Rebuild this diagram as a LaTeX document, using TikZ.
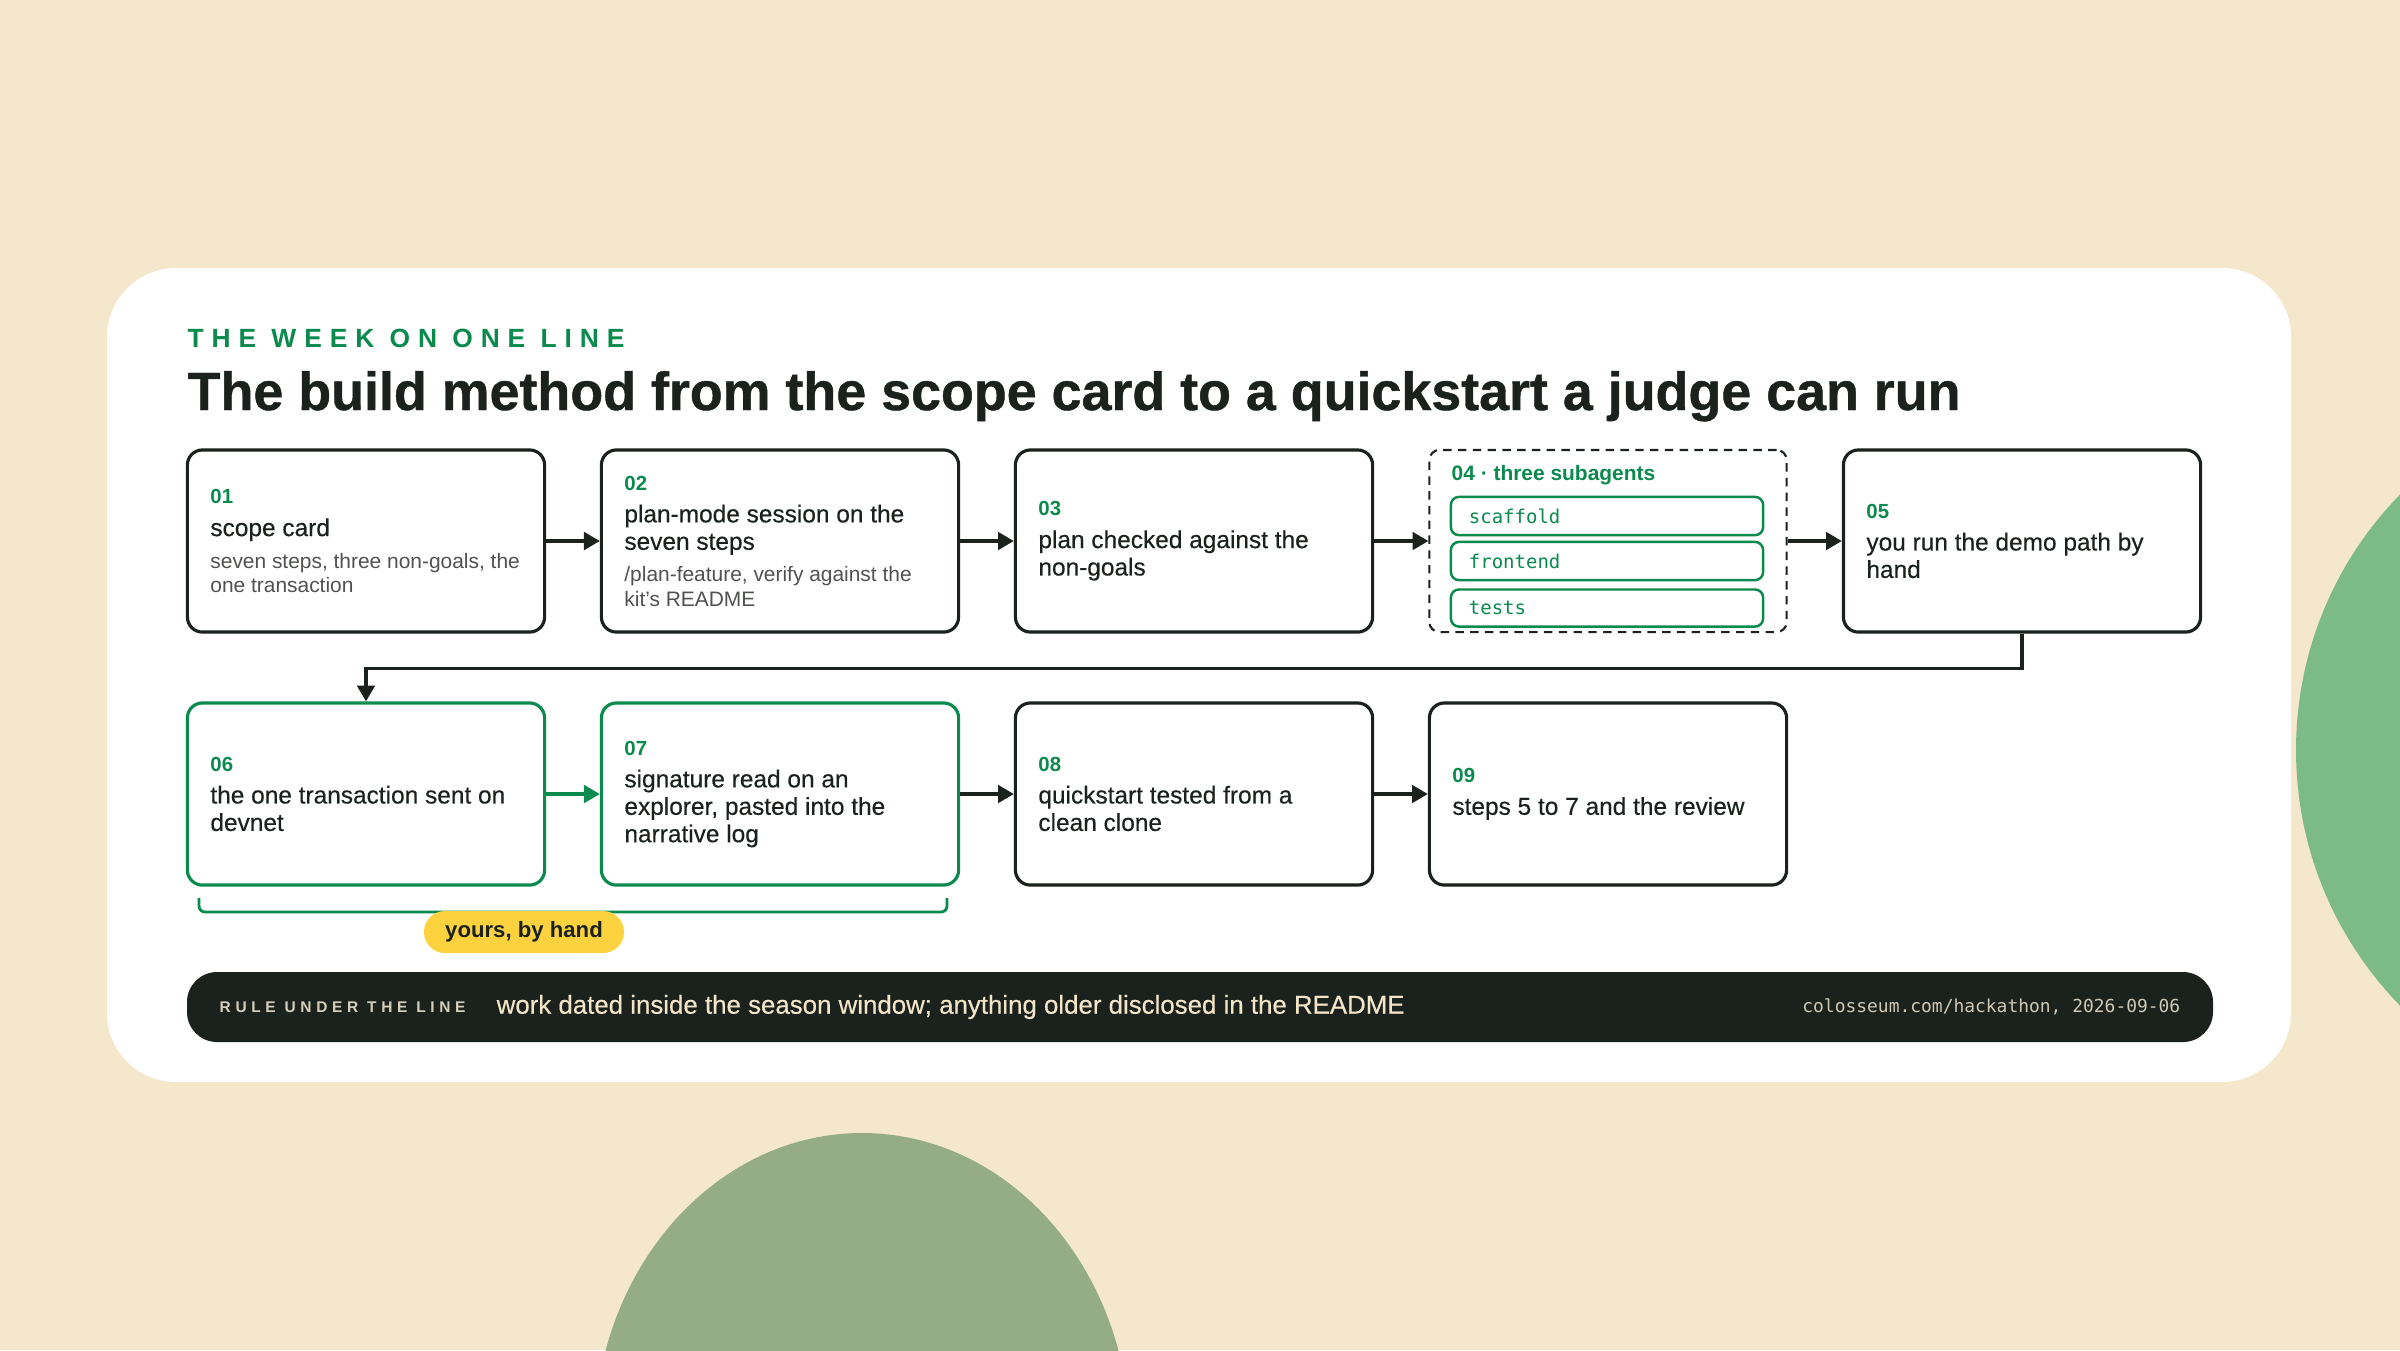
\documentclass[tikz,border=0pt]{standalone}
\usepackage{fontspec}
\setmainfont{Liberation Sans}
\newfontfamily\codefont{DejaVu Sans Mono}
\newfontfamily\trackfont{Liberation Sans}[LetterSpace=30]
\newfontfamily\mediumfont{Liberation Sans}[FakeBold=0.35]
\newfontfamily\heavyfont{Liberation Sans Bold}[FakeBold=0.8]
\usetikzlibrary{arrows.meta}
\usetikzlibrary{positioning}

\definecolor{cream}{HTML}{F5E7CB}
\definecolor{ink}{HTML}{1B211D}
\definecolor{brandgreen}{HTML}{0B8A4E}
\definecolor{notegray}{HTML}{4F524F}
\definecolor{leafgreen}{HTML}{7DBA8A}
\definecolor{sagegreen}{HTML}{95AD86}
\definecolor{pillyellow}{HTML}{FCD23F}
\definecolor{barlabel}{HTML}{D6CFBC}
\definecolor{barmono}{HTML}{CFC8B5}
\definecolor{bartext}{HTML}{F3E6C8}

% card lines: ragged, font's own spaces, allowed to run a little past the text width
\newcommand{\cardlines}{\raggedright\spaceskip=0pt\xspaceskip=0pt\rightskip=-0.4cm plus 1fil\relax}
\newcommand{\stepnum}[1]{{\cardlines\fontsize{5.8}{6.6}\selectfont\bfseries\color{brandgreen}#1\par}\vspace{1.4pt}}
\newcommand{\steptext}[1]{{\cardlines\mediumfont\fontsize{6.95}{7.8}\selectfont\color{ink}#1\par}}
\newcommand{\stepnote}[1]{\vspace{2.2pt}{\cardlines\fontsize{5.95}{6.9}\selectfont\color{notegray}#1\par}}

\tikzset{
  card/.style={draw=ink, line width=0.9pt, rounded corners=0.15cm, fill=white,
    minimum width=3.57cm, minimum height=1.82cm, text width=3.11cm,
    inner xsep=0pt, align=left},
  greencard/.style={card, draw=brandgreen},
  groupbox/.style={draw=ink, line width=0.6pt, dash pattern=on 2.4pt off 1.8pt,
    rounded corners=0.1cm, minimum width=3.57cm, minimum height=1.82cm},
  agent/.style={draw=brandgreen, line width=0.7pt, rounded corners=0.08cm,
    minimum width=3.12cm, minimum height=0.37cm, text width=2.76cm, inner xsep=0pt,
    align=left, text=brandgreen, font=\codefont\fontsize{5.4}{6}\selectfont},
  flow/.style={draw=ink, line width=0.9pt, -{Triangle[length=4.5pt,width=5pt]}},
  greenflow/.style={flow, draw=brandgreen},
  pill/.style={fill=pillyellow, rounded corners=0.21cm, minimum width=2cm,
    minimum height=0.42cm, inner sep=0pt, text=ink,
    font=\bfseries\fontsize{6.3}{7}\selectfont}
}

\begin{document}
\begin{tikzpicture}[x=0.01cm, y=-0.01cm]

    % page and backdrop
    \useasboundingbox (0,0) rectangle (2400,1350);
    \fill [cream] (0,0) rectangle (2400,1350);
    \begin{scope}
      \clip (0,0) rectangle (2400,1350);
      \fill [leafgreen] (2662,750) circle [radius=366];
      \fill [sagegreen] (862,1440) ellipse [x radius=268, y radius=307];
    \end{scope}
    \fill [white, rounded corners=0.69cm] (107,268) rectangle (2291,1082);

    % headings
    \node [anchor=base west, inner sep=0pt, text=brandgreen,
      font=\trackfont\bfseries\fontsize{7.5}{9}\selectfont] (kicker) at (187,347)
      {THE WEEK ON ONE LINE};
    \node [anchor=base west, inner sep=0pt, text=ink,
      font=\heavyfont\fontsize{15.3}{18}\selectfont] (headline) at (187,410)
      {The build method from the scope card to a quickstart a judge can run};

    % first row
    \node [card] (s1) at (366,541)
      {\stepnum{01}\steptext{scope card}\stepnote{seven steps, three non-goals, the\newline one transaction}};
    \node [card] (s2) at (780,541)
      {\stepnum{02}\steptext{plan-mode session on the\newline seven steps}\stepnote{/plan-feature, verify against the\newline kit's README}};
    \node [card] (s3) at (1194,541)
      {\stepnum{03}\steptext{plan checked against the\newline non-goals}};
    \node [groupbox] (s4) at (1608,541) {};
    \node [card] (s5) at (2022,541)
      {\stepnum{05}\steptext{you run the demo path by\newline hand}};

    \node [anchor=west, inner sep=0pt, text=brandgreen,
      font=\bfseries\fontsize{5.95}{6.5}\selectfont] (s4head) at (1451,475)
      {04 · three subagents};
    \node [agent] (scaffold) at (1607,516) {scaffold};
    \node [agent] (frontend) at (1607,561) {frontend};
    \node [agent] (tests) at (1607,608) {tests};

    % second row
    \node [greencard] (s6) at (366,794)
      {\stepnum{06}\steptext{the one transaction sent on\newline devnet}};
    \node [greencard] (s7) at (780,794)
      {\stepnum{07}\steptext{signature read on an\newline explorer, pasted into the\newline narrative log}};
    \node [card] (s8) at (1194,794)
      {\stepnum{08}\steptext{quickstart tested from a\newline clean clone}};
    \node [card] (s9) at (1608,794)
      {\stepnum{09}\steptext{steps 5 to 7 and the review}};

    % connectors
    \draw [flow] (s1) -- (s2);
    \draw [flow] (s2) -- (s3);
    \draw [flow] (s3) -- (s4);
    \draw [flow] (s4) -- (s5);
    \draw [flow] (s5.south) -- ++(0,35) -| (s6.north);
    \draw [greenflow] (s6) -- (s7);
    \draw [flow] (s7) -- (s8);
    \draw [flow] (s8) -- (s9);

    % bracket under the hand steps
    \draw [brandgreen, line width=0.8pt, rounded corners=0.06cm]
      (199,898) -- (199,912) -- (947,912) -- (947,898);
    \node [pill] (byhand) at (524,932) {yours, by hand};

    % rule bar
    \fill [ink, rounded corners=0.3cm] (187,972) rectangle (2213,1042);
    \node [anchor=west, inner sep=0pt, text=barlabel,
      font=\trackfont\bfseries\fontsize{4.4}{5}\selectfont] (rulelabel) at (219,1007)
      {RULE UNDER THE LINE};
    \node [anchor=west, inner sep=0pt, text=bartext,
      font=\mediumfont\fontsize{7.35}{8}\selectfont] (ruletext) at (496,1007)
      {work dated inside the season window; anything older disclosed in the README};
    \node [anchor=east, inner sep=0pt, text=barmono,
      font=\codefont\fontsize{5.1}{6}\selectfont] (source) at (2181,1007)
      {colosseum.com/hackathon, 2026-09-06};

\end{tikzpicture}
\end{document}
